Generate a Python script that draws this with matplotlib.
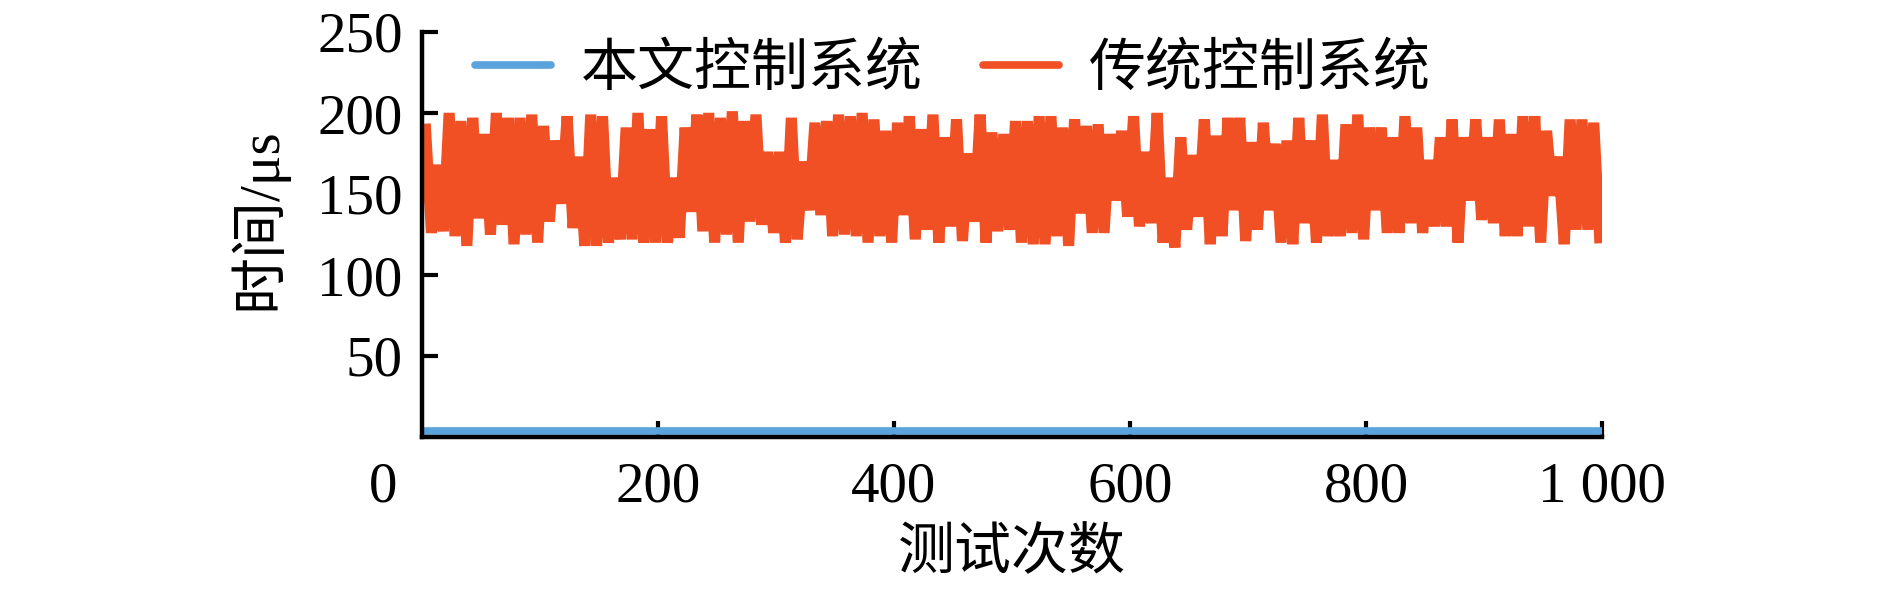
import numpy as np
import matplotlib
matplotlib.use("Agg")
import matplotlib.pyplot as plt

plt.rcParams['font.family'] = ['Liberation Serif', 'Noto Sans CJK SC']
plt.rcParams['font.size'] = 41

# test numbers and measured time (us), read off the figure
# traditional system: alternating peak / trough, every 5 tests
traditional_us = [
    190, 126, 168, 127, 200, 124, 195, 118, 197, 135, 187, 125, 200, 131, 197, 119, 197, 125, 199, 120,
    192, 133, 183, 144, 198, 129, 173, 118, 199, 118, 198, 120, 160, 122, 191, 122, 200, 120, 190, 120,
    198, 120, 160, 123, 191, 139, 199, 127, 200, 120, 197, 125, 201, 120, 195, 133, 199, 131, 176, 126,
    176, 120, 197, 122, 170, 140, 194, 137, 195, 124, 199, 125, 198, 124, 200, 120, 196, 124, 189, 120,
    194, 137, 198, 122, 190, 128, 199, 120, 185, 130, 196, 121, 175, 133, 199, 120, 188, 127, 187, 128,
    195, 120, 195, 119, 198, 119, 198, 124, 191, 118, 196, 138, 192, 126, 193, 126, 187, 146, 189, 136,
    198, 130, 176, 132, 200, 120, 160, 117, 185, 128, 174, 136, 196, 119, 186, 124, 197, 140, 197, 121,
    182, 128, 194, 140, 181, 120, 183, 119, 197, 132, 183, 120, 199, 124, 171, 124, 193, 126, 199, 122,
    191, 140, 191, 126, 185, 126, 198, 132, 191, 126, 171, 130, 185, 130, 196, 120, 185, 146, 196, 134,
    185, 132, 196, 124, 187, 124, 198, 130, 198, 120, 189, 149, 173, 119, 196, 128, 196, 128, 194, 123,
]
traditional_tests = np.arange(3, 1000, 5)

# proposed system stays flat near the bottom
proposed_tests = [1, 1000]
proposed_us = [4, 4]

x_ticks = [200, 400, 600, 800, 1000]
x_labels = ["200", "400", "600", "800", "1 000"]
y_ticks = [50, 100, 150, 200, 250]

blue = "#5AA3DC"
orange = "#F05024"

fig = plt.figure(figsize=(18.9, 6.03), dpi=100)
ax = fig.add_axes([422 / 1890, 1 - 437 / 603, 1180 / 1890, 405 / 603])

ax.plot(proposed_tests, proposed_us, color=blue, linewidth=5.5,
        solid_capstyle="butt", label="本文控制系统", zorder=2)
ax.plot(traditional_tests, traditional_us, color=orange, linewidth=8,
        solid_joinstyle="bevel", label="传统控制系统", zorder=2)

ax.set_xlim(0, 1000)
ax.set_ylim(0, 250)
ax.set_xticks(x_ticks, x_labels)
ax.set_yticks(y_ticks)

for side in ["top", "right"]:
    ax.spines[side].set_visible(False)
for side in ["left", "bottom"]:
    ax.spines[side].set_linewidth(3.2)
    ax.spines[side].set_zorder(3)

ax.tick_params(axis="both", direction="in", length=11.5, width=3)
ax.tick_params(axis="y", pad=14)
ax.tick_params(axis="x", pad=18)

# the lone "0" sits left of the origin
ax.annotate("0", xy=(0, 0), xycoords="axes fraction", xytext=(-28, -18),
            textcoords="offset points", ha="center", va="top")

ax.set_xlabel("测试次数")
ax.xaxis.set_label_coords(0.5, -0.225)
ax.set_ylabel("时间/μs")
ax.yaxis.set_label_coords(-0.114, 0.54)

leg = ax.legend(loc="center left", bbox_to_anchor=(0.045, 0.906), ncol=2,
                frameon=False, borderaxespad=0, borderpad=0,
                handlelength=1.34, handletextpad=0.52, columnspacing=1.05)
for line in leg.get_lines():
    line.set_linewidth(5.5)
    line.set_solid_capstyle("round")

fig.savefig("out.png", dpi=100)
